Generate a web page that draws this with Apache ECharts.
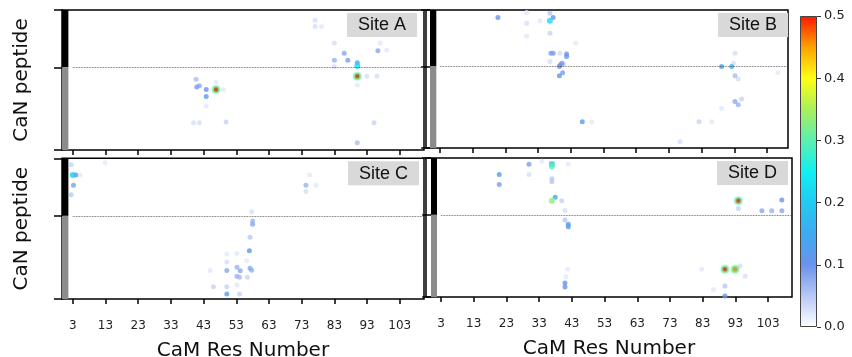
<!DOCTYPE html>
<html>
<head>
<meta charset="utf-8">
<title>CaM / CaN contact maps</title>
<script src="https://cdn.jsdelivr.net/npm/echarts@6/dist/echarts.min.js"></script>
<style>
  html, body { margin: 0; padding: 0; background: #fff; }
  #chart { width: 852px; height: 357px; }
</style>
</head>
<body>
<div id="chart"></div>
<script>
// tick labels / scales
const resTicks = [3, 13, 23, 33, 43, 53, 63, 73, 83, 93, 103];
const pepTicks = [0, 13, 22];
const pepSplit = 13;
const pepMax = 22;
const cbTicks = [0, 0.1, 0.2, 0.3, 0.4, 0.5];
// colour map (white -> blue -> cyan -> yellow -> red), evenly spaced 0..0.5
const cmap = ['#ffffff', '#b7c8f4', '#6a93ec', '#3eaaf0', '#22caf2', '#10f0f0',
  '#5cefb0', '#a9f05c', '#ffff14', '#ffa200', '#ff1600'];

// contact maps: [CaM residue, CaN peptide row, value]
const siteA = [
  [77.1, 20.4, 0.03], [77.1, 19.4, 0.03], [79.1, 19.4, 0.02], [83.0, 16.8, 0.03],
  [86.0, 15.2, 0.08], [83.0, 14.1, 0.07], [87.1, 14.1, 0.09], [83.0, 13.1, 0.03],
  [90.0, 13.7, 0.15], [90.0, 13.2, 0.22], [90.0, 11.6, 0.5], [92.9, 11.6, 0.03],
  [96.0, 11.6, 0.03], [96.3, 15.6, 0.08], [99.0, 15.7, 0.02], [97.0, 16.8, 0.02],
  [90.0, 10.2, 0.02], [95.1, 4.3, 0.04], [90.0, 1.15, 0.06],
  [40.7, 11.1, 0.06], [40.9, 9.9, 0.09], [41.7, 10.1, 0.08], [43.8, 9.5, 0.1],
  [43.8, 8.4, 0.12], [46.8, 9.5, 0.5], [43.8, 6.9, 0.02], [46.8, 10.7, 0.02],
  [49.0, 9.5, 0.02], [39.9, 4.3, 0.03], [41.7, 4.3, 0.03], [49.9, 4.4, 0.04]
];
const siteB = [
  [20.7, 20.8, 0.1], [29.5, 21.6, 0.02], [29.5, 19.9, 0.03], [33.6, 20.3, 0.02],
  [36.6, 21.5, 0.05], [37.6, 20.8, 0.1], [36.6, 20.3, 0.22], [36.6, 18.3, 0.04],
  [29.5, 17.8, 0.02], [44.5, 16.7, 0.02], [36.9, 15.1, 0.09], [37.6, 15.1, 0.09],
  [39.7, 15.1, 0.03], [41.7, 15.0, 0.1], [41.7, 14.6, 0.1], [36.6, 13.8, 0.03],
  [39.7, 13.2, 0.1], [40.2, 13.5, 0.09], [40.7, 13.4, 0.05], [39.5, 13.0, 0.09],
  [40.5, 12.0, 0.09], [39.5, 11.5, 0.1], [46.5, 4.2, 0.12], [49.4, 4.2, 0.02],
  [82.2, 4.2, 0.04], [86.1, 4.2, 0.02], [76.4, 1.0, 0.03], [89.1, 13.0, 0.14],
  [92.2, 13.0, 0.17], [93.2, 15.1, 0.03], [92.7, 13.5, 0.03], [93.2, 11.5, 0.06],
  [94.2, 11.0, 0.03], [93.2, 7.4, 0.08], [94.2, 6.9, 0.07], [95.2, 7.8, 0.04],
  [89.1, 6.3, 0.02], [106.3, 12.0, 0.02]
];
const siteC = [
  [2.5, 21.0, 0.04], [3.0, 19.4, 0.2], [3.9, 19.4, 0.1], [3.2, 17.8, 0.09],
  [2.5, 16.3, 0.05], [5.2, 19.4, 0.02], [12.9, 21.3, 0.02], [74.3, 17.8, 0.07],
  [75.4, 19.4, 0.02], [74.3, 16.8, 0.03], [77.4, 17.8, 0.02], [57.7, 13.65, 0.03],
  [58.0, 12.2, 0.07], [58.0, 11.7, 0.08], [57.2, 9.65, 0.05], [57.0, 7.55, 0.12],
  [57.2, 4.8, 0.08], [57.7, 4.5, 0.07], [56.2, 6.0, 0.02], [56.4, 3.4, 0.04],
  [53.2, 7.1, 0.02], [50.1, 7.0, 0.02], [50.1, 5.8, 0.03], [50.1, 4.45, 0.08],
  [53.2, 4.95, 0.07], [54.2, 4.4, 0.08], [53.2, 3.55, 0.07], [54.0, 3.4, 0.06],
  [45.0, 4.45, 0.02], [46.0, 1.9, 0.04], [50.1, 1.9, 0.04], [50.1, 0.8, 0.12],
  [54.0, 0.8, 0.04], [53.2, 2.2, 0.02]
];
const siteD = [
  [20.8, 19.4, 0.12], [20.8, 17.8, 0.09], [29.9, 21.0, 0.09], [29.9, 19.4, 0.03],
  [36.9, 21.05, 0.2], [36.9, 20.65, 0.3], [36.9, 18.7, 0.05], [36.9, 18.25, 0.05],
  [33.8, 21.5, 0.02], [41.9, 21.0, 0.02], [36.9, 15.25, 0.33], [37.9, 15.8, 0.15],
  [39.9, 15.25, 0.04], [40.9, 13.7, 0.03], [40.9, 12.2, 0.05], [41.9, 11.5, 0.12],
  [41.9, 11.1, 0.12], [41.7, 4.4, 0.02], [41.2, 3.2, 0.02], [40.9, 2.2, 0.1],
  [40.9, 1.6, 0.1], [93.9, 15.25, 0.5], [93.9, 14.0, 0.04], [101.1, 13.65, 0.08],
  [104.1, 13.65, 0.07], [107.2, 13.65, 0.08], [107.2, 15.35, 0.1], [89.8, 4.4, 0.5],
  [92.9, 4.4, 0.46], [94.4, 4.9, 0.03], [96.0, 3.3, 0.03], [82.7, 4.4, 0.02],
  [89.8, 1.75, 0.05], [89.8, 0.15, 0.1], [86.3, 1.2, 0.02]
];

// panel layout (pixels) and x ranges
const panels = [
  { name: 'Site A', data: siteA, box: [62, 10, 362, 140], x: [-0.3, 110.4], bar: [-0.3, 1.65], bottom: false, left: true, tag: 347 },
  { name: 'Site B', data: siteB, box: [426, 10, 362, 138], x: [-1.28, 109.4], bar: [-0.06, 1.87], bottom: false, left: false, tag: 718 },
  { name: 'Site C', data: siteC, box: [62, 158.3, 362, 140.7], x: [-0.3, 110.4], bar: [-0.3, 1.65], bottom: true, left: true, tag: 348 },
  { name: 'Site D', data: siteD, box: [426, 158, 366, 139], x: [-1.59, 110.3], bar: [-0.06, 1.78], bottom: true, left: false, tag: 717 }
];

const font = 'DejaVu Sans';
const grids = [], xAxes = [], yAxes = [], series = [], titles = [], spotIdx = [];

panels.forEach((p, i) => {
  grids.push({ left: p.box[0], top: p.box[1], width: p.box[2], height: p.box[3],
    outerBoundsMode: 'none', containLabel: false,
    show: true, borderColor: '#000', borderWidth: 1.5, backgroundColor: '#fff' });
  xAxes.push({
    gridIndex: i, type: 'value', min: p.x[0], max: p.x[1],
    axisLine: { show: false }, splitLine: { show: false },
    axisTick: { show: true, customValues: resTicks, length: 5, lineStyle: { color: '#000', width: 1.5 } },
    axisLabel: { show: p.bottom, customValues: resTicks, margin: 21, fontSize: 12, fontFamily: font, color: '#222' },
    name: p.bottom ? 'CaM Res Number' : '', nameLocation: 'middle', nameGap: 42,
    nameTextStyle: { fontSize: 20, fontFamily: font, color: '#111' }
  });
  yAxes.push({
    gridIndex: i, type: 'value', min: 0, max: pepMax,
    axisLine: { show: false }, splitLine: { show: false },
    axisTick: { show: true, customValues: pepTicks, length: 9, lineStyle: { color: '#000', width: 1.5 } },
    axisLabel: { show: false },
    name: p.left ? 'CaN peptide' : '', nameLocation: 'middle', nameGap: 30, nameRotate: 90,
    nameTextStyle: { fontSize: 20, fontFamily: font, color: '#111' }
  });
  const sorted = p.data.slice().sort((a, b) => a[2] - b[2]);
  spotIdx.push(series.length);
  series.push({
    type: 'scatter', xAxisIndex: i, yAxisIndex: i, silent: true,
    data: sorted.filter(d => d[2] < 0.45),
    symbol: 'circle',
    symbolSize: v => (v[2] >= 0.2 ? 6 : 5),
    markArea: {
      silent: true,
      data: [
        [{ xAxis: p.bar[0], yAxis: pepSplit, itemStyle: { color: '#000' } }, { xAxis: p.bar[1], yAxis: pepMax }],
        [{ xAxis: p.bar[0], yAxis: 0, itemStyle: { color: '#8c8c8c' } }, { xAxis: p.bar[1], yAxis: pepSplit }]
      ]
    },
    markLine: {
      silent: true, symbol: 'none', label: { show: false },
      lineStyle: { color: '#444', type: 'dotted', width: 0.8 },
      data: [[{ coord: [resTicks[0], pepSplit] }, { coord: [p.x[1], pepSplit] }]]
    }
  });
  spotIdx.push(series.length);
  series.push({
    type: 'scatter', xAxisIndex: i, yAxisIndex: i, silent: true,
    data: sorted.filter(d => d[2] >= 0.45),
    symbol: 'circle', symbolSize: 6,
    itemStyle: { borderColor: '#9cf070', borderWidth: 1.5, shadowBlur: 2, shadowColor: 'rgba(20,220,230,0.9)' }
  });
  titles.push({
    text: p.name, left: p.tag, top: p.box[1] + 3,
    backgroundColor: '#d9d9d9', padding: [3, 11, 2, 11],
    textStyle: { fontSize: 18, fontWeight: 'normal', fontFamily: 'Liberation Sans', color: '#111', lineHeight: 19 }
  });
});

// colour bar
const cb = grids.length;
grids.push({ left: 800, top: 16, width: 17, height: 311, outerBoundsMode: 'none', containLabel: false });
xAxes.push({ gridIndex: cb, type: 'category', data: ['v'], show: false });
yAxes.push({
  gridIndex: cb, type: 'value', position: 'right', min: 0, max: 0.5, interval: 0.1,
  axisLine: { show: false }, splitLine: { show: false },
  axisTick: { show: true, length: 4, lineStyle: { color: '#333', width: 1 } },
  axisLabel: { margin: 7, fontSize: 13, fontFamily: font, color: '#222', formatter: v => v.toFixed(1) }
});
series.push({
  type: 'bar', xAxisIndex: cb, yAxisIndex: cb, barWidth: '100%', silent: true,
  data: [cbTicks[cbTicks.length - 1]],
  itemStyle: {
    borderColor: '#444', borderWidth: 1,
    color: new echarts.graphic.LinearGradient(0, 1, 0, 0,
      cmap.map((c, k) => ({ offset: k / (cmap.length - 1), color: c })))
  }
});

const chart = echarts.init(document.getElementById('chart'), null, { renderer: 'canvas' });
chart.setOption({
  animation: false,
  title: titles,
  grid: grids,
  xAxis: xAxes,
  yAxis: yAxes,
  visualMap: {
    type: 'continuous', show: false, min: 0, max: 0.5, dimension: 2,
    seriesIndex: spotIdx, inRange: { color: cmap }
  },
  series: series
});
</script>
</body>
</html>
